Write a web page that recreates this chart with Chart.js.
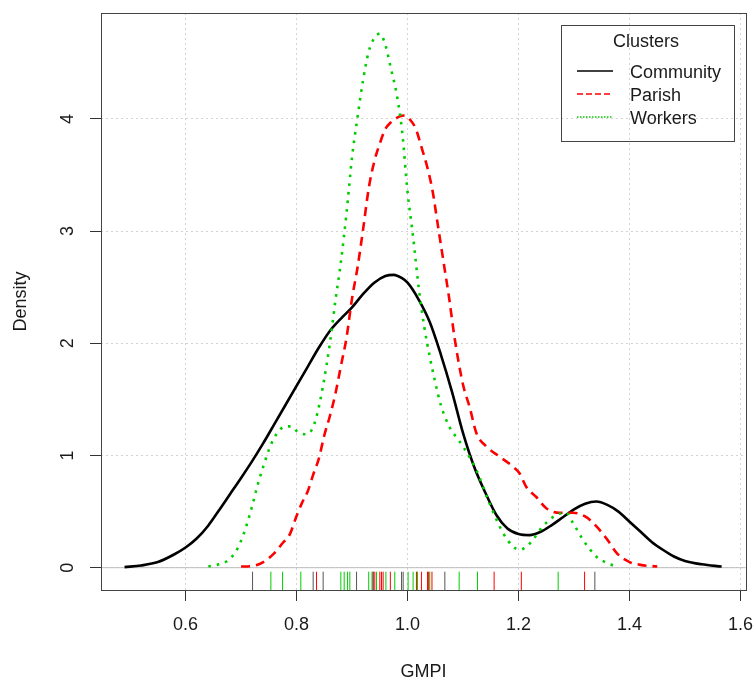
<!DOCTYPE html>
<html>
<head>
<meta charset="utf-8">
<script src="https://cdn.jsdelivr.net/npm/chart.js@4.4.1/dist/chart.umd.min.js"></script>
<style>
  body { margin: 0; background: #fff; }
  #wrap { width: 756px; height: 681px; }
</style>
</head>
<body>
<div id="wrap"><canvas id="densityChart" width="756" height="681"></canvas></div>
<script>
// series names (legend order)
const seriesNames = ['Community', 'Parish', 'Workers'];

// density curves
const communityGmpi = [0.49, 0.52, 0.55, 0.58, 0.60, 0.62, 0.64, 0.66, 0.68, 0.70, 0.72, 0.74, 0.76, 0.78, 0.80, 0.82, 0.84, 0.86, 0.88, 0.90, 0.92, 0.94, 0.96, 0.975, 0.99, 1.00, 1.02, 1.04, 1.06, 1.08, 1.10, 1.12, 1.14, 1.16, 1.18, 1.20, 1.22, 1.24, 1.26, 1.28, 1.30, 1.32, 1.34, 1.36, 1.38, 1.40, 1.42, 1.44, 1.46, 1.48, 1.50, 1.53, 1.566];
const communityDensity = [0.005, 0.02, 0.05, 0.12, 0.18, 0.26, 0.37, 0.51, 0.655, 0.80, 0.95, 1.11, 1.28, 1.45, 1.62, 1.79, 1.96, 2.11, 2.22, 2.32, 2.44, 2.54, 2.60, 2.61, 2.58, 2.54, 2.39, 2.19, 1.90, 1.57, 1.20, 0.90, 0.67, 0.47, 0.35, 0.30, 0.29, 0.32, 0.38, 0.45, 0.52, 0.57, 0.59, 0.56, 0.50, 0.41, 0.32, 0.23, 0.16, 0.10, 0.06, 0.03, 0.01];

const parishGmpi = [0.70, 0.72, 0.74, 0.76, 0.775, 0.788, 0.80, 0.81, 0.82, 0.83, 0.84, 0.85, 0.86, 0.87, 0.88, 0.89, 0.90, 0.91, 0.92, 0.93, 0.94, 0.95, 0.96, 0.97, 0.985, 0.995, 1.005, 1.015, 1.025, 1.035, 1.045, 1.055, 1.065, 1.075, 1.085, 1.10, 1.112, 1.124, 1.142, 1.166, 1.19, 1.202, 1.214, 1.232, 1.25, 1.274, 1.298, 1.322, 1.34, 1.36, 1.377, 1.40, 1.42, 1.45];
const parishDensity = [0.01, 0.015, 0.05, 0.13, 0.22, 0.30, 0.46, 0.58, 0.68, 0.83, 0.97, 1.18, 1.35, 1.55, 1.80, 2.05, 2.40, 2.68, 3.02, 3.38, 3.62, 3.78, 3.91, 3.97, 4.02, 4.03, 3.99, 3.91, 3.75, 3.58, 3.36, 3.04, 2.72, 2.40, 2.04, 1.63, 1.43, 1.20, 1.08, 0.99, 0.90, 0.84, 0.72, 0.63, 0.53, 0.49, 0.49, 0.45, 0.37, 0.25, 0.13, 0.05, 0.025, 0.01];

const workersGmpi = [0.641, 0.66, 0.675, 0.69, 0.70, 0.71, 0.72, 0.73, 0.74, 0.75, 0.76, 0.77, 0.78, 0.79, 0.80, 0.815, 0.825, 0.835, 0.848, 0.86, 0.87, 0.88, 0.89, 0.90, 0.91, 0.92, 0.93, 0.94, 0.95, 0.96, 0.97, 0.98, 0.99, 1.00, 1.01, 1.02, 1.03, 1.04, 1.05, 1.06, 1.076, 1.09, 1.10, 1.124, 1.148, 1.172, 1.19, 1.202, 1.215, 1.226, 1.244, 1.268, 1.286, 1.298, 1.316, 1.34, 1.36, 1.377];
const workersDensity = [0.01, 0.03, 0.06, 0.14, 0.24, 0.38, 0.55, 0.74, 0.90, 1.05, 1.16, 1.23, 1.26, 1.26, 1.22, 1.19, 1.21, 1.33, 1.63, 2.0, 2.38, 2.73, 3.16, 3.66, 4.02, 4.35, 4.60, 4.72, 4.76, 4.66, 4.45, 4.23, 3.90, 3.35, 2.95, 2.50, 2.15, 1.88, 1.65, 1.45, 1.25, 1.15, 1.08, 0.87, 0.57, 0.31, 0.19, 0.16, 0.19, 0.25, 0.37, 0.47, 0.49, 0.40, 0.25, 0.10, 0.04, 0.01];

// rug (individual observations)
const communityRug = [0.7207, 0.8299, 0.8479, 0.9081, 0.938, 0.9892, 0.9921, 1.0672, 1.3375];
const parishRug = [0.836, 0.938, 0.941, 0.950, 0.953, 0.956, 0.969, 1.016, 1.025, 1.036, 1.038, 1.044, 1.156, 1.205, 1.319];
const workersRug = [0.7537, 0.7748, 0.8077, 0.8798, 0.8858, 0.8919, 0.896, 0.930, 0.936, 0.944, 0.961, 0.977, 1.001, 1.010, 1.018, 1.040, 1.093, 1.126, 1.2714];

// axes
const xTickValues = [0.6, 0.8, 1.0, 1.2, 1.4, 1.6];
const yTickValues = [0, 1, 2, 3, 4];
const xMin = 0.4476, xMax = 1.6096;
const yMin = -0.1988, yMax = 4.944;

const seriesColors = ['#000000', '#ff0000', '#00cd00'];
const rugColors = ['#555555', '#ff0000', '#00cd00'];
const FONT = '"Liberation Sans", Arial, sans-serif';
const TEXT = '#1a1a1a';

const pts = (xs, ys) => xs.map((x, i) => ({ x: x, y: ys[i] }));
const rugY = yMin + 9.15 / 112.2;
const rugPts = xs => xs.map(x => ({ x: x, y: rugY }));

// keep the plot region where R put it
const noPad = s => { s.paddingTop = 0; s.paddingBottom = 0; s.paddingLeft = 0; s.paddingRight = 0; };

// plot box + legend drawn on top
const boxAndLegend = {
  id: 'boxAndLegend',
  afterDraw(chart) {
    const ctx = chart.ctx;
    const a = chart.chartArea;
    ctx.save();
    ctx.strokeStyle = '#444';
    ctx.lineWidth = 1;
    ctx.strokeRect(Math.round(a.left) + 0.5, Math.round(a.top) + 0.5, Math.round(a.right - a.left), Math.round(a.bottom - a.top));

    // legend
    ctx.strokeRect(561.5, 25.5, 173, 116);
    ctx.font = '18px ' + FONT;
    ctx.fillStyle = TEXT;
    ctx.textAlign = 'center';
    ctx.textBaseline = 'middle';
    ctx.fillText('Clusters', 646, 42);
    ctx.textAlign = 'left';
    const dashes = [[], [6, 3], [1.5, 1.5]];
    seriesNames.forEach((name, i) => {
      const y = 72 + i * 23;
      ctx.beginPath();
      ctx.setLineDash(dashes[i]);
      ctx.strokeStyle = seriesColors[i];
      ctx.lineWidth = 1.3;
      ctx.moveTo(577, y - 1);
      ctx.lineTo(613, y - 1);
      ctx.stroke();
      ctx.setLineDash([]);
      ctx.fillText(name, 630, y + 1);
    });
    ctx.restore();
  }
};

const curve = (label, data, i, dash, order) => ({
  label: label,
  data: data,
  showLine: true,
  borderColor: seriesColors[i],
  borderWidth: 2.6,
  borderDash: dash,
  borderCapStyle: 'butt',
  pointRadius: 0,
  cubicInterpolationMode: 'monotone',
  fill: false,
  order: order
});

const rug = (label, data, i) => ({
  label: label,
  data: data,
  showLine: false,
  pointStyle: 'line',
  pointRotation: 90,
  pointRadius: 9.15,
  pointBorderWidth: 1,
  pointBorderColor: rugColors[i],
  borderColor: rugColors[i],
  order: 0
});

const gridOpts = {
  color: '#d3d3d3',
  lineWidth: 1,
  drawTicks: true,
  tickLength: 11,
  tickColor: '#333',
  tickWidth: 1,
  tickBorderDash: []
};

new Chart(document.getElementById('densityChart'), {
  type: 'scatter',
  data: {
    datasets: [
      {
        label: 'zero',
        data: [{ x: xMin, y: 0 }, { x: xMax, y: 0 }],
        showLine: true,
        borderColor: '#bdbdbd',
        borderWidth: 1,
        pointRadius: 0,
        order: 10
      },
      curve(seriesNames[0], pts(communityGmpi, communityDensity), 0, [], 5),
      curve(seriesNames[1], pts(parishGmpi, parishDensity), 1, [9, 6], 4),
      curve(seriesNames[2], pts(workersGmpi, workersDensity), 2, [2.6, 6], 3),
      rug('communityRug', rugPts(communityRug), 0),
      rug('parishRug', rugPts(parishRug), 1),
      rug('workersRug', rugPts(workersRug), 2)
    ]
  },
  options: {
    responsive: false,
    animation: false,
    layout: { padding: { left: 0, right: 10, top: 13, bottom: 0 } },
    plugins: {
      legend: { display: false },
      tooltip: { enabled: false }
    },
    scales: {
      x: {
        type: 'linear',
        min: xMin,
        max: xMax,
        afterBuildTicks: s => { s.ticks = xTickValues.map(v => ({ value: v })); },
        afterFit: s => { s.height = 91; noPad(s); },
        border: { display: false, dash: [2, 3] },
        grid: gridOpts,
        ticks: {
          color: TEXT,
          font: { family: FONT, size: 18 },
          padding: 13,
          maxRotation: 0,
          callback: v => v.toFixed(1)
        },
        title: {
          display: true,
          text: 'GMPI',
          color: TEXT,
          font: { family: FONT, size: 18, lineHeight: 1.0 },
          padding: { top: 0, bottom: 0 }
        }
      },
      y: {
        type: 'linear',
        min: yMin,
        max: yMax,
        afterBuildTicks: s => { s.ticks = yTickValues.map(v => ({ value: v })); },
        afterFit: s => { s.width = 101; noPad(s); },
        border: { display: false, dash: [2, 3] },
        grid: gridOpts,
        ticks: {
          color: TEXT,
          font: { family: FONT, size: 18 },
          padding: 17,
          minRotation: 90,
          maxRotation: 90,
          crossAlign: 'center',
          callback: v => String(v)
        },
        title: {
          display: true,
          text: 'Density',
          color: TEXT,
          font: { family: FONT, size: 18 },
          padding: { top: 10, bottom: 0 }
        }
      }
    }
  },
  plugins: [boxAndLegend]
});
</script>
</body>
</html>
